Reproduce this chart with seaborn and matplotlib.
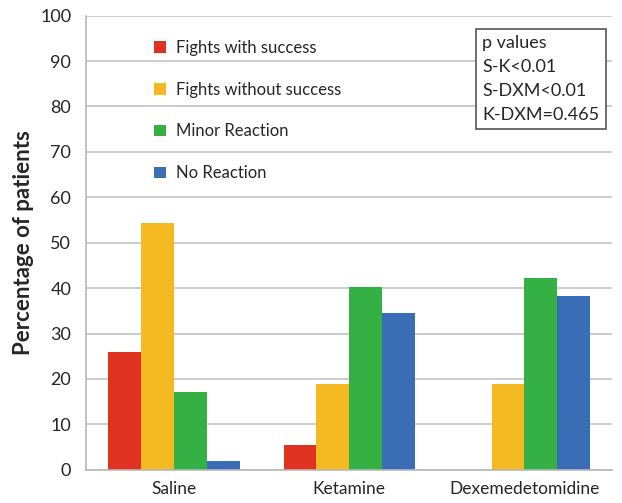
import matplotlib
matplotlib.use("Agg")
import matplotlib.pyplot as plt
import seaborn as sns
import pandas as pd
from matplotlib.patches import Patch

categories = ["Saline", "Ketamine", "Dexemedetomidine"]
series = ["Fights with success", "Fights without success", "Minor Reaction", "No Reaction"]
fights_success = [26, 5.5, 0]
fights_no_success = [54.3, 19, 19]
minor_reaction = [17.2, 40.2, 42.2]
no_reaction = [2, 34.5, 38.3]
colors = ["#E03222", "#F5BA22", "#34B044", "#3A6DB5"]
pvalue_lines = ["p values", "S-K<0.01", "S-DXM<0.01", "K-DXM=0.465"]

rows = []
for s, vals in zip(series, [fights_success, fights_no_success, minor_reaction, no_reaction]):
    for c, v in zip(categories, vals):
        rows.append({"Group": c, "Outcome": s, "Value": v})
df = pd.DataFrame(rows)

sns.set_theme(style="white")
plt.rcParams["font.family"] = ["Lato", "DejaVu Sans"]

fig = plt.figure(figsize=(6.22, 5.03), dpi=100)
ax = fig.add_axes([0.139, 0.066, 0.845, 0.903])

sns.barplot(data=df, x="Group", y="Value", hue="Outcome", order=categories,
            hue_order=series, palette=colors, width=0.75, saturation=1,
            ax=ax, legend=False, edgecolor="none", linewidth=0)

ax.set_ylim(0, 100)
ax.set_xlim(-0.5, 2.5)
ax.set_yticks(range(0, 101, 10))
ax.yaxis.grid(True, color="#c8c8c8", linewidth=1.3)
ax.set_axisbelow(True)
for sp in ["top", "right"]:
    ax.spines[sp].set_visible(False)
for sp in ["left", "bottom"]:
    ax.spines[sp].set_color("#b8b8b8")
    ax.spines[sp].set_linewidth(1.2)

ax.set_xticks([0, 1, 2])
ax.set_xticklabels(categories, fontsize=12.5)
ax.set_xticks([0.5, 1.5], minor=True)
ax.tick_params(axis="x", which="major", length=0, pad=8)
ax.tick_params(axis="x", which="minor", length=5, color="#b8b8b8", width=1)
ax.tick_params(axis="y", length=5, color="#b8b8b8", width=1, labelsize=13, pad=6)
ax.set_xlabel("")
ax.set_ylabel("Percentage of patients", fontsize=16, fontweight="bold", labelpad=4)

handles = [Patch(facecolor=c, edgecolor="none") for c in colors]
ax.legend(handles, series, loc="upper left", bbox_to_anchor=(0.1, 0.98),
          frameon=False, fontsize=12, handlelength=0.7, handleheight=0.7,
          labelspacing=1.55, handletextpad=0.6)

ax.text(0.753, 0.957, "\n".join(pvalue_lines), transform=ax.transAxes,
        fontsize=13, va="top", ha="left", linespacing=1.6,
        bbox=dict(boxstyle="square,pad=0.35", facecolor="white",
                  edgecolor="#555555", linewidth=1.2))

fig.savefig("out.png", dpi=100)
